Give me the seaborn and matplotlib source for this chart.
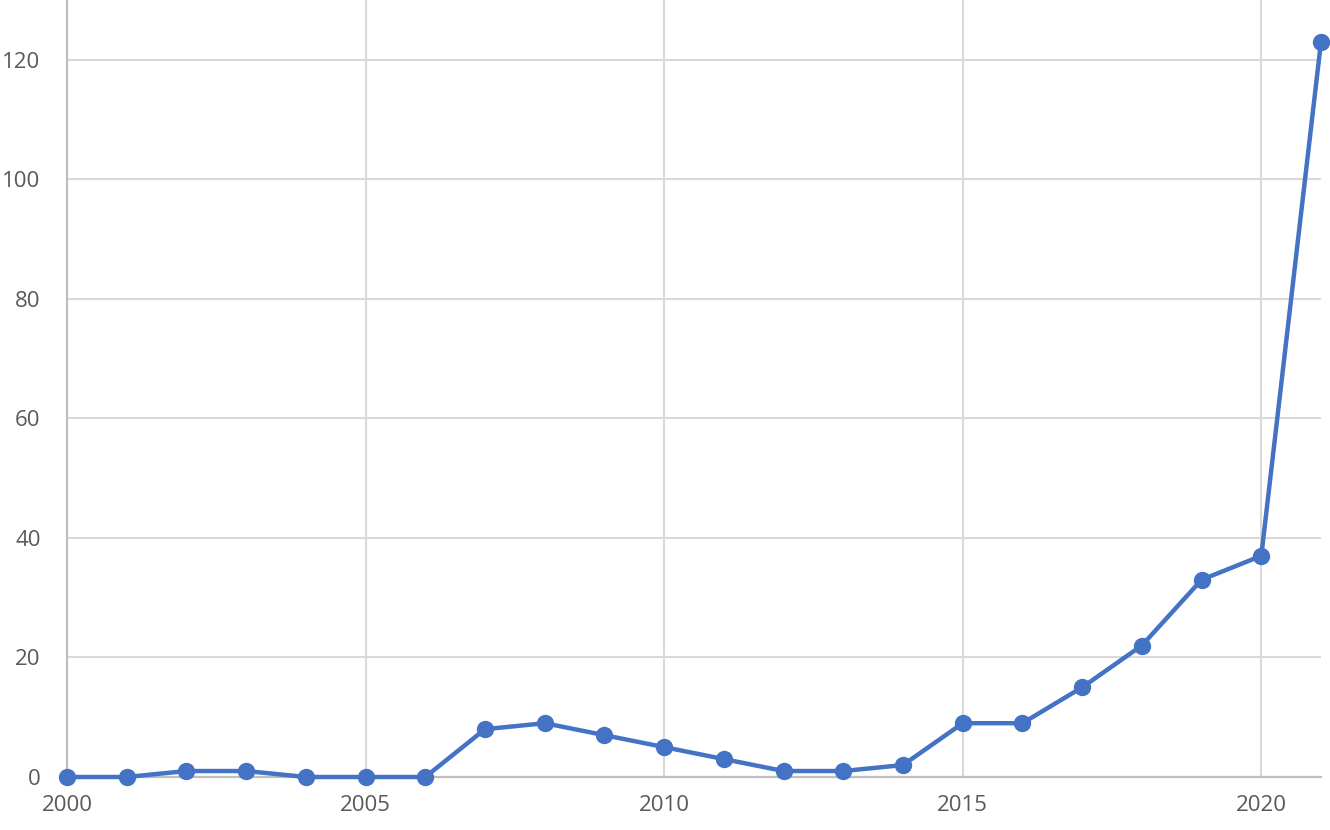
import pandas as pd
import matplotlib.pyplot as plt
import seaborn as sns

years = list(range(2000, 2022))
counts = [0, 0, 1, 1, 0, 0, 0, 8, 9, 7, 5, 3, 1, 1, 2, 9, 9, 15, 22, 33, 37, 123]
x_ticks = [2000, 2005, 2010, 2015, 2020]
y_ticks = [0, 20, 40, 60, 80, 100, 120]

df = pd.DataFrame({'year': years, 'count': counts})

sns.set_style('whitegrid')
plt.rcParams['font.family'] = ['Open Sans', 'DejaVu Sans']

fig = plt.figure(figsize=(13.3, 8.3), dpi=100)
ax = fig.add_axes([67 / 1330, 53 / 830, 1254 / 1330, 777 / 830])

sns.lineplot(data=df, x='year', y='count', ax=ax, color='#4472C4',
             linewidth=3.2, marker='o', markersize=12.5,
             markeredgewidth=0, clip_on=False, zorder=5)

ax.set_xlim(2000, 2021)
ax.set_ylim(0, 130)
ax.set_xticks(x_ticks)
ax.set_yticks(y_ticks)
ax.set_xlabel('')
ax.set_ylabel('')

ax.grid(True, color='#D9D9D9', linewidth=1.5)
for side in ['top', 'right']:
    ax.spines[side].set_visible(False)
for side in ['left', 'bottom']:
    ax.spines[side].set_color('#BFBFBF')
    ax.spines[side].set_linewidth(1.6)

ax.tick_params(axis='x', length=0, pad=13, labelsize=16, labelcolor='#595959')
ax.tick_params(axis='y', length=0, pad=19, labelsize=16, labelcolor='#595959')

fig.savefig('out.png', dpi=100)
